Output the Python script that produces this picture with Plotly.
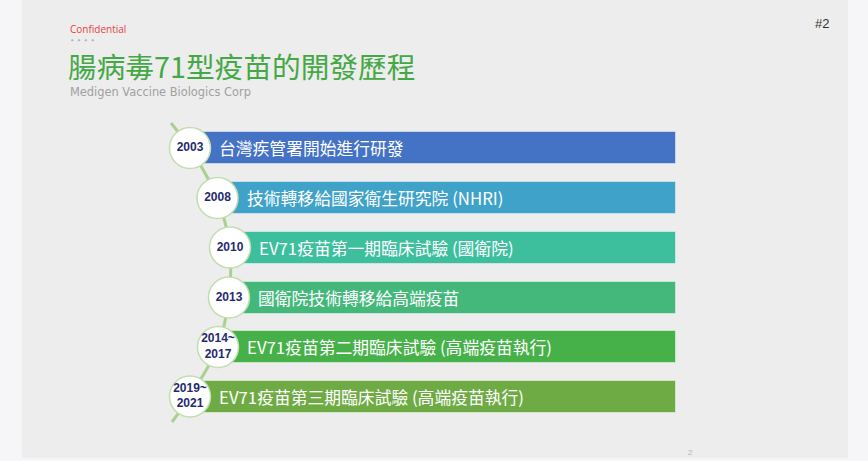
import plotly.graph_objects as go

# ---- data ----
years = ["2003", "2008", "2010", "2013", "2014~<br>2017", "2019~<br>2021"]
events = [
    "台灣疾管署開始進行研發",
    "技術轉移給國家衛生研究院 (NHRI)",
    "EV71疫苗第一期臨床試驗 (國衛院)",
    "國衛院技術轉移給高端疫苗",
    "EV71疫苗第二期臨床試驗 (高端疫苗執行)",
    "EV71疫苗第三期臨床試驗 (高端疫苗執行)",
]
title_text = "腸病毒71型疫苗的開發歷程"
subtitle_text = "Medigen Vaccine Biologics Corp"

# ---- layout / style ----
bar_colors = ["#4472c4", "#3fa2c8", "#3dbf9e", "#44b87b", "#47b149", "#6fab45"]
row_y = [148, 198, 247.5, 297.5, 347, 396.5]
circle_x = [190, 217.5, 230, 229, 218, 190]
bar_end = 676
bar_h = 32

fig = go.Figure()

# slide background
fig.add_shape(type="rect", x0=22, x1=848, y0=-2, y1=458, fillcolor="#ededed",
              line=dict(width=0), layer="below")

# bars
fig.add_trace(go.Bar(
    orientation="h",
    y=row_y,
    base=circle_x,
    x=[bar_end - cx for cx in circle_x],
    width=bar_h,
    marker=dict(color=bar_colors, line=dict(color="rgba(255,255,255,0.45)", width=1)),
    hoverinfo="skip",
))

# curved timeline
line_x = [171] + circle_x + [172]
line_y = [123] + row_y + [422]
fig.add_trace(go.Scatter(
    x=line_x, y=line_y, mode="lines",
    line=dict(color="#a9d08e", width=3, shape="spline", smoothing=0.8),
    hoverinfo="skip",
))

# year circles
fig.add_trace(go.Scatter(
    x=circle_x, y=row_y, mode="markers+text",
    marker=dict(size=41, color="white", line=dict(color="#c2ddae", width=1.5)),
    text=["<b>%s</b>" % y for y in years],
    textposition="middle center",
    textfont=dict(family="Liberation Sans", size=12, color="#1f2a6e"),
    hoverinfo="skip",
))

# event labels
for cx, ry, ev in zip(circle_x, row_y, events):
    fig.add_annotation(x=cx + 27, y=ry, text=ev, xanchor="left", yanchor="middle",
                       showarrow=False,
                       font=dict(family="Noto Sans CJK TC", size=16.8, color="white"))

# header texts
fig.add_annotation(x=68, y=29, text="Confidential", xanchor="left", yanchor="middle",
                   showarrow=False, font=dict(family="Open Sans", size=10, color="#e53e3e"))
fig.add_annotation(x=68, y=40, text="• • • •", xanchor="left", yanchor="middle",
                   showarrow=False, font=dict(family="DejaVu Sans", size=7.5, color="#b0b0b0"))
fig.add_annotation(x=66, y=65, text=title_text, xanchor="left", yanchor="middle",
                   showarrow=False, font=dict(family="Noto Sans CJK TC", size=28.7, color="#44a845"))
fig.add_annotation(x=68, y=92, text=subtitle_text, xanchor="left", yanchor="middle",
                   showarrow=False, font=dict(family="DejaVu Sans", size=11.4, color="#a0a0a0"))
fig.add_annotation(x=813, y=23, text="#2", xanchor="left", yanchor="middle",
                   showarrow=False, font=dict(family="Liberation Sans", size=13, color="#333333"))
fig.add_annotation(x=690, y=452, text="2", xanchor="center", yanchor="middle",
                   showarrow=False, font=dict(family="Liberation Sans", size=8, color="#b5b5b5"))

fig.update_layout(
    width=868, height=461,
    margin=dict(l=0, r=0, t=0, b=0),
    paper_bgcolor="#f6f6f8", plot_bgcolor="rgba(0,0,0,0)",
    showlegend=False,
    xaxis=dict(range=[0, 868], visible=False, fixedrange=True),
    yaxis=dict(range=[461, 0], visible=False, fixedrange=True),
    bargap=0,
)

fig.write_html("out.html", config={"displayModeBar": False},
               post_script="document.body.style.margin='0px';document.body.style.overflow='hidden';")
